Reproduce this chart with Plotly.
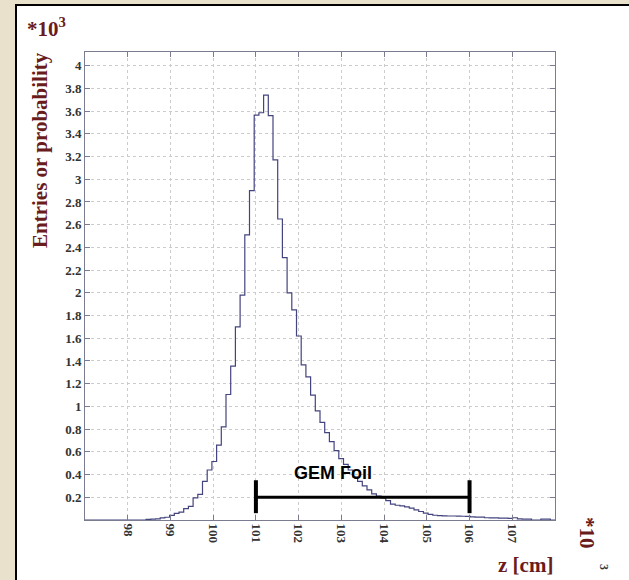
import numpy as np
import plotly.graph_objects as go

# ---- data (entries per bin, in units of 10^3) ----
z_min = 97.0
z_max = 108.0
n_bins = 100
entries = [
    0, 0, 0, 0, 0, 0, 0, 0, 0, 0,
    0, 0, 0, 0.005, 0.008, 0.010, 0.018, 0.024, 0.040, 0.058,
    0.070, 0.100, 0.120, 0.195, 0.225, 0.340, 0.440, 0.515, 0.660, 0.820,
    1.105, 1.355, 1.700, 1.980, 2.510, 2.900, 3.565, 3.585, 3.740, 3.560,
    3.170, 2.650, 2.310, 2.000, 1.850, 1.620, 1.365, 1.260, 1.100, 0.960,
    0.860, 0.770, 0.690, 0.610, 0.540, 0.490, 0.440, 0.380, 0.340, 0.300,
    0.265, 0.230, 0.210, 0.195, 0.170, 0.140, 0.130, 0.125, 0.115, 0.105,
    0.090, 0.075, 0.060, 0.050, 0.042, 0.038, 0.036, 0.035, 0.035, 0.034,
    0.033, 0.032, 0.028, 0.026, 0.025, 0.020, 0.018, 0.018, 0.017, 0.016,
    0.015, 0.020, 0.010, 0.008, 0.008, 0, 0, 0.008, 0.008, 0,
]
x_ticks = [98, 99, 100, 101, 102, 103, 104, 105, 106, 107]
y_ticks = [0.2, 0.4, 0.6, 0.8, 1, 1.2, 1.4, 1.6, 1.8, 2, 2.2, 2.4, 2.6, 2.8, 3, 3.2, 3.4, 3.6, 3.8, 4]
y_tick_labels = ["0.2", "0.4", "0.6", "0.8", "1", "1.2", "1.4", "1.6", "1.8", "2",
                 "2.2", "2.4", "2.6", "2.8", "3", "3.2", "3.4", "3.6", "3.8", "4"]
foil_start = 101
foil_end = 106
foil_level = 0.2
foil_label = "GEM Foil"
foil_label_x = 102.8

bin_width = (z_max - z_min) / n_bins
edges = z_min + bin_width * np.arange(n_bins + 1)
step_y = list(entries) + [entries[-1]]

TITLE_RED = "#6a1b1b"
SERIF = "Liberation Serif, Times New Roman, serif"


def px_x(px):
    return (px - 85) / 470


def px_y(py):
    return (520 - py) / 468


fig = go.Figure()
fig.add_trace(go.Scatter(
    x=edges, y=step_y, mode="lines", line_shape="hv",
    line=dict(color="#44447f", width=1.2), showlegend=False, hoverinfo="skip",
))

# GEM foil marker
fig.add_shape(type="line", x0=foil_start, x1=foil_end, y0=foil_level, y1=foil_level,
              line=dict(color="black", width=3))
for xe in (foil_start, foil_end):
    fig.add_shape(type="line", x0=xe, x1=xe, y0=foil_level - 0.14, y1=foil_level + 0.15,
                  line=dict(color="black", width=4))
fig.add_annotation(x=foil_label_x, y=foil_level + 0.11, text=f"<b>{foil_label}</b>",
                   showarrow=False, xanchor="center", yanchor="bottom",
                   font=dict(family="Liberation Sans, Arial, sans-serif", size=18, color="black"))

# white framed panel
fig.add_shape(type="rect", xref="paper", yref="paper",
              x0=px_x(16), x1=px_x(680),
              y0=px_y(620), y1=px_y(5),
              fillcolor="white", line=dict(color="black", width=2), layer="below")

# titles
ann_common = dict(xref="paper", yref="paper", showarrow=False, xanchor="center", yanchor="middle")
fig.add_annotation(x=px_x(40), y=px_y(150), text="<b>Entries or probability</b>", textangle=-90,
                   font=dict(family=SERIF, size=21, color=TITLE_RED), **ann_common)
fig.add_annotation(x=px_x(46), y=px_y(28), text="<b>*10<sup>3</sup></b>",
                   font=dict(family=SERIF, size=21, color=TITLE_RED), **ann_common)
fig.add_annotation(x=px_x(525), y=px_y(565), text="<b>z [cm]</b>",
                   font=dict(family=SERIF, size=21, color=TITLE_RED), **ann_common)
fig.add_annotation(x=px_x(587), y=px_y(533), text="<b>*10</b>", textangle=90,
                   font=dict(family=SERIF, size=21, color=TITLE_RED), **ann_common)
fig.add_annotation(x=px_x(604), y=px_y(567), text="<b>3</b>", textangle=90,
                   font=dict(family=SERIF, size=12, color="#333333"), **ann_common)

axis_common = dict(
    showline=True, linecolor="#7c7c90", linewidth=1, mirror="ticks",
    ticks="inside", ticklen=5, tickcolor="#7c7c90",
    showgrid=True, gridcolor="#cccccc", griddash="dot", gridwidth=1,
    zeroline=False,
    tickfont=dict(family=SERIF, size=13, color="#333333", weight="bold"),
)

fig.update_xaxes(range=[z_min, z_max], tickvals=x_ticks, ticktext=[str(v) for v in x_ticks],
                 tickangle=90, **axis_common)
fig.update_yaxes(range=[0, 4.12], tickvals=y_ticks, ticktext=y_tick_labels, **axis_common)

fig.update_layout(
    width=629, height=580,
    margin=dict(l=85, r=74, t=52, b=60, pad=0),
    paper_bgcolor="#e9e1cc", plot_bgcolor="white",
    showlegend=False,
)

fig.write_html("out.html")
